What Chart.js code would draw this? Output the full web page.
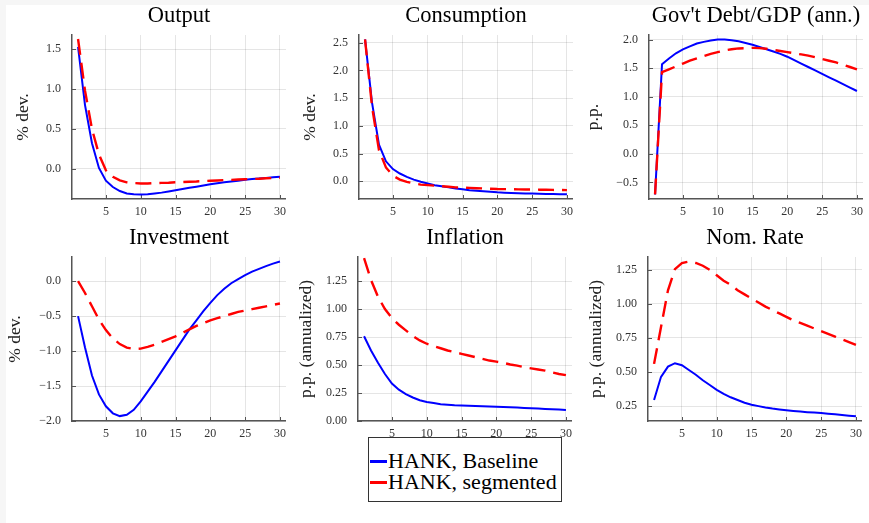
<!DOCTYPE html>
<html>
<head>
<meta charset="utf-8">
<script src="https://cdn.jsdelivr.net/npm/chart.js@4.4.1/dist/chart.umd.min.js"></script>
<style>
html, body { margin: 0; padding: 0; background: #f6f6f6; }
#page { position: absolute; left: 6px; top: 5px; width: 863px; height: 518px; background: #fff; }
canvas { position: absolute; }
#legend { position: absolute; left: 368px; top: 437px; width: 192px; height: 63px; border: 1px solid #333; background: #fff;
          font-family: 'Liberation Serif'; font-size: 22px; color: #000; }
.item { position: absolute; left: 1px; height: 22px; line-height: 22px; white-space: nowrap; }
.swatch { display: inline-block; width: 17px; height: 3px; vertical-align: middle; margin-right: 1px; position: relative; top: -1px; }
</style>
</head>
<body>
<div id="page"></div>
<canvas id="c0" width="286" height="223" style="left:0px;top:0px"></canvas>
<canvas id="c1" width="286" height="223" style="left:287px;top:0px"></canvas>
<canvas id="c2" width="286" height="223" style="left:577px;top:0px"></canvas>
<canvas id="c3" width="286" height="223" style="left:0px;top:222px"></canvas>
<canvas id="c4" width="286" height="223" style="left:286px;top:222px"></canvas>
<canvas id="c5" width="286" height="223" style="left:576px;top:222px"></canvas>
<div id="legend">
  <div class="item" style="top:12px"><span class="swatch" style="background:#0000ff"></span>HANK, Baseline</div>
  <div class="item" style="top:33px"><span class="swatch" style="background:#ff0000"></span>HANK, segmented</div>
</div>
<script>
const periods = [1, 2, 3, 4, 5, 6, 7, 8, 9, 10, 11, 12, 13, 14, 15, 16, 17, 18, 19, 20, 21, 22, 23, 24, 25, 26, 27, 28, 29, 30];
const xTicks = [5, 10, 15, 20, 25, 30];
const seriesNames = ['HANK, Baseline', 'HANK, segmented'];

const outputBaseline = [1.53, 0.80, 0.32, 0.01, -0.15, -0.23, -0.28, -0.31, -0.32, -0.325, -0.32, -0.31, -0.30, -0.285, -0.27, -0.255, -0.24, -0.225, -0.21, -0.195, -0.182, -0.17, -0.16, -0.15, -0.138, -0.13, -0.122, -0.115, -0.108, -0.10];
const outputSegmented = [1.63, 0.98, 0.50, 0.18, -0.02, -0.10, -0.145, -0.17, -0.18, -0.185, -0.185, -0.18, -0.178, -0.175, -0.17, -0.167, -0.163, -0.16, -0.155, -0.15, -0.147, -0.143, -0.14, -0.135, -0.132, -0.128, -0.125, -0.12, -0.117, -0.113];
const outputTicks = [0, 0.5, 1.0, 1.5];

const consBaseline = [2.56, 1.42, 0.66, 0.36, 0.22, 0.14, 0.08, 0.03, -0.01, -0.04, -0.07, -0.09, -0.11, -0.13, -0.145, -0.16, -0.17, -0.18, -0.19, -0.20, -0.205, -0.21, -0.215, -0.22, -0.222, -0.225, -0.23, -0.232, -0.234, -0.235];
const consSegmented = [2.56, 1.35, 0.56, 0.25, 0.10, 0.03, -0.01, -0.04, -0.06, -0.07, -0.08, -0.09, -0.10, -0.11, -0.115, -0.12, -0.125, -0.13, -0.135, -0.14, -0.142, -0.144, -0.146, -0.148, -0.15, -0.152, -0.154, -0.156, -0.158, -0.16];
const consTicks = [0, 0.5, 1.0, 1.5, 2.0, 2.5];

const debtBaseline = [-0.71, 1.57, 1.67, 1.76, 1.83, 1.88, 1.93, 1.96, 1.985, 2.0, 2.0, 1.99, 1.97, 1.94, 1.91, 1.87, 1.83, 1.79, 1.75, 1.70, 1.64, 1.58, 1.52, 1.46, 1.40, 1.34, 1.28, 1.22, 1.16, 1.10];
const debtSegmented = [-0.71, 1.43, 1.48, 1.53, 1.58, 1.63, 1.67, 1.71, 1.75, 1.78, 1.81, 1.83, 1.845, 1.85, 1.855, 1.85, 1.84, 1.82, 1.80, 1.78, 1.76, 1.74, 1.72, 1.69, 1.66, 1.63, 1.60, 1.56, 1.52, 1.48];
const debtTicks = [-0.5, 0, 0.5, 1.0, 1.5, 2.0];

const invBaseline = [-0.50, -0.95, -1.35, -1.62, -1.79, -1.89, -1.93, -1.91, -1.84, -1.72, -1.58, -1.44, -1.29, -1.14, -0.99, -0.84, -0.69, -0.56, -0.43, -0.31, -0.20, -0.11, -0.03, 0.03, 0.085, 0.135, 0.175, 0.215, 0.25, 0.28];
const invSegmented = [0.0, -0.17, -0.36, -0.55, -0.70, -0.82, -0.90, -0.95, -0.97, -0.965, -0.94, -0.91, -0.87, -0.83, -0.79, -0.74, -0.69, -0.64, -0.60, -0.56, -0.53, -0.50, -0.47, -0.44, -0.42, -0.40, -0.38, -0.36, -0.34, -0.32];
const invTicks = [-2.0, -1.5, -1.0, -0.5, 0];

const inflBaseline = [0.757, 0.63, 0.52, 0.42, 0.335, 0.28, 0.24, 0.21, 0.185, 0.17, 0.16, 0.15, 0.145, 0.14, 0.138, 0.136, 0.134, 0.132, 0.13, 0.128, 0.126, 0.123, 0.12, 0.117, 0.114, 0.111, 0.108, 0.105, 0.102, 0.099];
const inflSegmented = [1.455, 1.26, 1.11, 1.00, 0.92, 0.86, 0.81, 0.76, 0.72, 0.69, 0.67, 0.65, 0.63, 0.615, 0.60, 0.585, 0.57, 0.555, 0.54, 0.53, 0.52, 0.505, 0.495, 0.48, 0.47, 0.46, 0.45, 0.435, 0.42, 0.41];
const inflTicks = [0, 0.25, 0.5, 0.75, 1.0, 1.25];

const rateBaseline = [0.295, 0.465, 0.54, 0.565, 0.55, 0.515, 0.48, 0.44, 0.405, 0.37, 0.34, 0.315, 0.295, 0.275, 0.26, 0.25, 0.24, 0.232, 0.226, 0.22, 0.215, 0.21, 0.206, 0.203, 0.20, 0.195, 0.19, 0.185, 0.18, 0.175];
const rateSegmented = [0.56, 0.83, 1.10, 1.255, 1.30, 1.31, 1.30, 1.28, 1.25, 1.21, 1.17, 1.14, 1.10, 1.07, 1.04, 1.01, 0.98, 0.955, 0.93, 0.905, 0.88, 0.86, 0.84, 0.82, 0.80, 0.78, 0.76, 0.74, 0.72, 0.70];
const rateTicks = [0.25, 0.5, 0.75, 1.0, 1.25];

Chart.defaults.font.family = "'Liberation Serif', serif";
Chart.defaults.color = '#333';

const innerTicks = {
    id: 'innerTicks',
    beforeDatasetsDraw(chart) {
        const { ctx, chartArea: a, scales: { x, y } } = chart;
        ctx.save();
        ctx.strokeStyle = '#555';
        ctx.lineWidth = 1;
        ctx.beginPath();
        y.ticks.forEach(t => {
            const py = Math.round(y.getPixelForValue(t.value)) + 0.5;
            ctx.moveTo(a.left, py);
            ctx.lineTo(a.left + 4, py);
        });
        x.ticks.forEach(t => {
            const px = Math.round(x.getPixelForValue(t.value)) + 0.5;
            ctx.moveTo(px, a.bottom);
            ctx.lineTo(px, a.bottom - 4);
        });
        ctx.stroke();
        ctx.restore();
    }
};

function fmt(v, digits) {
    const s = Math.abs(v).toFixed(digits);
    return v < -1e-9 ? '\u2212' + s : s;
}

function makePanel(id, p) {
    const ctx = document.getElementById(id).getContext('2d');
    return new Chart(ctx, {
        type: 'line',
        data: {
            datasets: [{
                label: seriesNames[0],
                data: periods.map((t, i) => ({ x: t, y: p.baseline[i] })),
                borderColor: '#0000ff',
                borderWidth: 2,
                pointRadius: 0,
                tension: 0,
                order: 1
            }, {
                label: seriesNames[1],
                data: periods.map((t, i) => ({ x: t, y: p.segmented[i] })),
                borderColor: '#ff0000',
                borderWidth: 2.4,
                borderDash: [16, 8],
                pointRadius: 0,
                tension: 0,
                order: 0
            }]
        },
        options: {
            responsive: false,
            animation: false,
            devicePixelRatio: 1,
            layout: { padding: 0 },
            plugins: {
                legend: { display: false },
                tooltip: { enabled: false },
                title: {
                    display: true,
                    text: p.title,
                    fullSize: false,
                    color: '#000',
                    font: { size: 22.5, weight: 'normal' },
                    padding: { top: 2.5, bottom: 5.5 }
                }
            },
            scales: {
                x: {
                    type: 'linear',
                    min: 0.13,
                    max: 30.87,
                    afterBuildTicks: s => { s.ticks = xTicks.map(v => ({ value: v })); },
                    afterFit: s => { s.height = 24; s.paddingLeft = 0; s.paddingRight = 0; },
                    ticks: { font: { size: 12 }, padding: 6, maxRotation: 0, autoSkip: false, callback: v => String(v) },
                    grid: { color: 'rgba(0,0,0,0.1)', drawTicks: false },
                    border: { display: true, color: '#555', width: 1.5 }
                },
                y: {
                    min: p.min,
                    max: p.max,
                    afterBuildTicks: s => { s.ticks = p.ticks.map(v => ({ value: v })); },
                    afterFit: s => { s.width = 72; s.paddingTop = 0; s.paddingBottom = 0; },
                    ticks: { font: { size: 12 }, padding: 11, autoSkip: false, callback: v => fmt(v, p.digits) },
                    grid: { color: 'rgba(0,0,0,0.1)', drawTicks: false },
                    border: { display: true, color: '#555', width: 1.5 },
                    title: {
                        display: true,
                        text: p.ylabel,
                        color: '#222',
                        font: { size: 17.5 },
                        padding: { top: p.titleX - 10.5, bottom: 0 }
                    }
                }
            }
        },
        plugins: [innerTicks]
    });
}

makePanel('c0', { title: 'Output', ylabel: '% dev.', baseline: outputBaseline, segmented: outputSegmented, ticks: outputTicks, min: -0.38, max: 1.68, digits: 1, titleX: 23 });
makePanel('c1', { title: 'Consumption', ylabel: '% dev.', baseline: consBaseline, segmented: consSegmented, ticks: consTicks, min: -0.32, max: 2.64, digits: 1, titleX: 23 });
makePanel('c2', { title: "Gov't Debt/GDP (ann.)", ylabel: 'p.p.', baseline: debtBaseline, segmented: debtSegmented, ticks: debtTicks, min: -0.79, max: 2.08, digits: 1, titleX: 16 });
makePanel('c3', { title: 'Investment', ylabel: '% dev.', baseline: invBaseline, segmented: invSegmented, ticks: invTicks, min: -2.0, max: 0.345, digits: 1, titleX: 15 });
makePanel('c4', { title: 'Inflation', ylabel: 'p.p. (annualized)', baseline: inflBaseline, segmented: inflSegmented, ticks: inflTicks, min: 0, max: 1.465, digits: 2, titleX: 20 });
makePanel('c5', { title: 'Nom. Rate', ylabel: 'p.p. (annualized)', baseline: rateBaseline, segmented: rateSegmented, ticks: rateTicks, min: 0.141, max: 1.344, digits: 2, titleX: 20 });
</script>
</body>
</html>
